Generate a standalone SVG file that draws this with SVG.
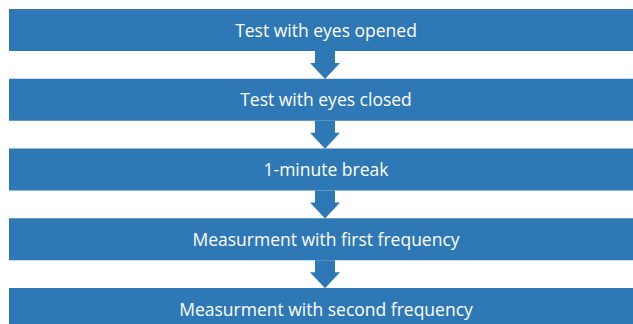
<svg xmlns="http://www.w3.org/2000/svg" width="633" height="324" viewBox="0 0 633 324">
<defs>
<style>
.bar{fill:#2E78B5;}
.lbl{fill:#ffffff;font-family:"Open Sans","Liberation Sans",sans-serif;font-size:17.5px;text-anchor:middle;dominant-baseline:central;}
.arr{fill:#2E78B5;}
</style>
<path id="arrow" class="arr" d="M315,0 H335 V12 H340 L325,28 L310,12 H315 Z"/>
</defs>
<rect width="633" height="324" fill="#ffffff"/>
<g id="connectors">
<use href="#arrow" y="51"/>
<use href="#arrow" y="120.75"/>
<use href="#arrow" y="190.5"/>
<use href="#arrow" y="260.25"/>
</g>
<g id="n1"><rect class="bar" x="9" y="9" width="624" height="42"/><text class="lbl" x="326" y="29.5">Test with eyes opened</text></g>
<g id="n2"><rect class="bar" x="9" y="78.75" width="624" height="42"/><text class="lbl" x="326" y="99.25">Test with eyes closed</text></g>
<g id="n3"><rect class="bar" x="9" y="148.5" width="624" height="42"/><text class="lbl" x="326" y="169">1-minute break</text></g>
<g id="n4"><rect class="bar" x="9" y="218.25" width="624" height="42"/><text class="lbl" x="326" y="238.75">Measurment with first frequency</text></g>
<g id="n5"><rect class="bar" x="9" y="288" width="624" height="42"/><text class="lbl" x="326" y="308.5">Measurment with second frequency</text></g>
</svg>
